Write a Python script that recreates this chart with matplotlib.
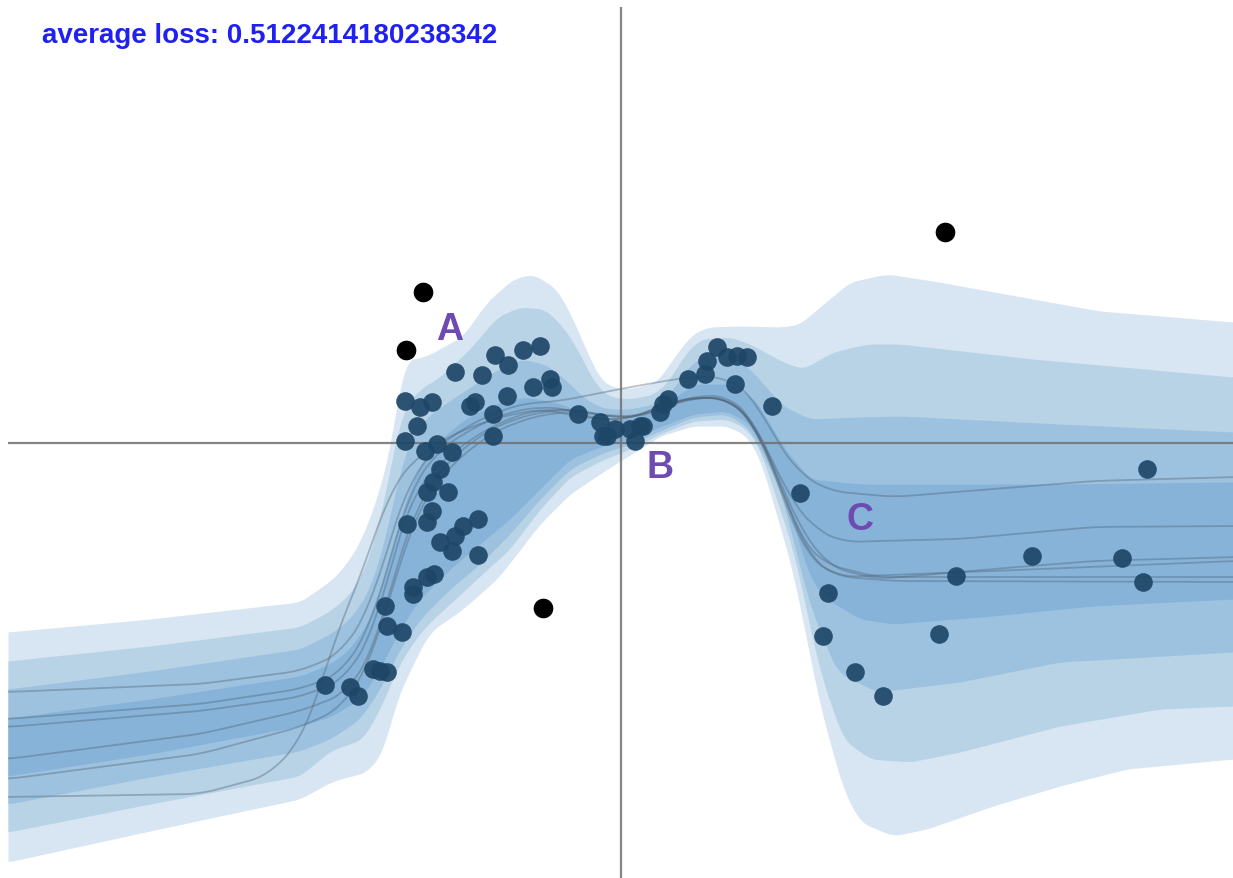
import numpy as np
import matplotlib.pyplot as plt

# plot units: x, y measured from the crossing of the two axis lines

# band edges, outer band (1) to inner band (4)
b1_top_x = [-613, -471, -321, -288, -271, -258, -241, -229, -221, -216, -194, -158, -134, -108, -88, -64, -48, -34, -21, -9, 9, 36, 52, 69, 86, 119, 162, 179, 194, 229, 266, 312, 412, 479, 612]
b1_top_y = [-189, -176, -159, -136, -116, -93, -46, 4, 59, 82, 87, 107, 141, 164, 169, 154, 124, 91, 64, 56, 54, 61, 84, 107, 116, 117, 116, 119, 132, 161, 169, 162, 144, 132, 121]
b1_bot_x = [-613, -471, -321, -288, -254, -238, -224, -204, -191, -158, -124, -108, -81, -51, -21, -1, 19, 39, 72, 106, 126, 139, 154, 172, 199, 222, 239, 272, 306, 372, 439, 506, 612]
b1_bot_y = [-419, -388, -356, -338, -329, -309, -256, -213, -189, -166, -136, -116, -81, -51, -31, -18, -6, 7, 17, 17, 7, -16, -66, -129, -263, -346, -379, -393, -386, -363, -343, -326, -316]

b2_top_x = [-613, -471, -321, -291, -271, -256, -241, -229, -218, -201, -181, -151, -124, -101, -76, -56, -41, -26, -11, 9, 34, 49, 64, 79, 109, 129, 162, 182, 212, 246, 279, 412, 612]
b2_top_y = [-218, -203, -184, -168, -151, -126, -76, -16, 34, 54, 66, 94, 126, 136, 134, 114, 89, 59, 46, 44, 49, 64, 89, 104, 106, 99, 81, 74, 91, 99, 99, 84, 66]
b2_bot_x = [-613, -471, -321, -291, -258, -241, -224, -208, -191, -158, -141, -111, -81, -51, -21, 9, 39, 72, 106, 126, 139, 172, 199, 222, 249, 289, 339, 439, 539, 612]
b2_bot_y = [-389, -361, -333, -308, -296, -266, -226, -199, -179, -149, -133, -106, -66, -34, -18, -6, 9, 22, 24, 14, -6, -106, -229, -296, -316, -319, -309, -283, -266, -263]

b3_top_x = [-613, -471, -321, -291, -271, -251, -236, -223, -211, -191, -161, -131, -101, -76, -56, -36, -16, 9, 34, 49, 64, 79, 109, 129, 162, 189, 239, 279, 439, 612]
b3_top_y = [-246, -228, -206, -191, -176, -146, -96, -36, 4, 29, 49, 69, 84, 79, 64, 44, 34, 34, 39, 49, 72, 86, 89, 74, 37, 24, 26, 27, 19, 11]
b3_bot_x = [-613, -471, -321, -291, -261, -241, -221, -201, -171, -141, -111, -81, -51, -21, 9, 39, 72, 106, 129, 159, 189, 216, 256, 339, 439, 612]
b3_bot_y = [-361, -334, -308, -296, -276, -246, -206, -176, -146, -121, -91, -56, -26, -11, -1, 12, 26, 29, 14, -46, -163, -229, -249, -239, -219, -209]

b4_top_x = [-613, -471, -321, -291, -271, -251, -236, -221, -206, -186, -156, -126, -96, -66, -41, -16, 9, 34, 54, 74, 109, 134, 164, 189, 239, 279, 439, 612]
b4_top_y = [-275, -256, -233, -221, -206, -176, -131, -76, -31, -1, 24, 39, 46, 41, 32, 24, 24, 32, 46, 59, 59, 44, -6, -36, -41, -41, -41, -39]
b4_bot_x = [-613, -471, -321, -291, -261, -241, -221, -201, -171, -141, -111, -81, -51, -21, 9, 39, 72, 106, 129, 159, 189, 206, 239, 272, 372, 472, 612]
b4_bot_y = [-333, -311, -283, -274, -256, -226, -186, -156, -126, -101, -76, -46, -16, -4, 4, 16, 29, 32, 19, -36, -136, -156, -176, -181, -173, -163, -156]

band_colors = ['#d7e6f2', '#b8d2e6', '#9dc2df', '#87b3d8']

# sampled functions (thin grey lines)
samples = [
    ([-613, -421, -321, -281, -251, -231, -211, -181, -141, -101, -61, -1, 49, 79, 109, 134, 154, 179, 209, 272, 372, 472, 612],
     [-249, -241, -228, -211, -166, -96, -36, -1, 24, 39, 42, 54, 63, 67, 64, 44, 4, -31, -48, -54, -46, -38, -34]),
    ([-613, -421, -321, -281, -251, -231, -211, -181, -141, -101, -61, -28, 9, 39, 72, 106, 126, 144, 169, 194, 222, 339, 472, 612],
     [-276, -261, -246, -231, -186, -116, -46, -6, 19, 34, 36, 24, 24, 37, 46, 44, 31, -1, -56, -86, -99, -96, -84, -83]),
    ([-613, -421, -321, -276, -246, -226, -206, -171, -131, -91, -51, -11, 19, 49, 79, 109, 131, 154, 179, 209, 256, 372, 472, 612],
     [-284, -268, -254, -236, -186, -106, -46, -11, 16, 32, 34, 26, 26, 39, 48, 46, 26, -26, -86, -124, -136, -126, -118, -114]),
    ([-613, -421, -321, -276, -246, -226, -201, -171, -131, -91, -51, -11, 19, 49, 79, 109, 134, 159, 184, 214, 272, 612],
     [-316, -291, -268, -251, -206, -126, -56, -16, 14, 29, 34, 27, 27, 39, 46, 44, 19, -46, -111, -133, -138, -139]),
    ([-613, -421, -321, -281, -251, -226, -201, -166, -126, -86, -46, -11, 19, 49, 79, 109, 137, 164, 189, 219, 372, 612],
     [-336, -311, -284, -266, -221, -136, -61, -18, 12, 27, 32, 26, 26, 38, 46, 44, 14, -56, -116, -134, -128, -118]),
    ([-613, -421, -354, -321, -304, -288, -271, -254, -231, -201, -161, -121, -81, -28, 9, 39, 72, 106, 129, 154, 179, 204, 256, 612],
     [-354, -351, -333, -299, -256, -199, -159, -116, -46, -11, 12, 26, 34, 24, 24, 37, 46, 44, 26, -26, -96, -121, -134, -134]),
]

# observed points
pts_x = [-296, -271, -263, -248, -241, -234, -236, -234, -219, -208, -208, -194, -187, -181, -169, -166, -158, -143, -143,
         -214, -194, -189, -188, -194, -173, -181, -196, -184, -169, -216, -204, -216, -201, -189, -151, -146, -128, -128,
         -114, -88, -71, -69, -166, -139, -126, -113, -98, -81,
         -43, -21, -18, -14, -6, 9, 14, 22, 19, 39, 47, 42, 67, 84, 86, 96, 106, 116, 126, 114, 151,
         179, 207, 202, 234, 262, 318, 335, 411, 501, 522, 526]
pts_y = [-242, -244, -253, -226, -228, -229, -163, -183, -189, -144, -151, -134, -131, -99, -108, -93, -83, -76, -112,
         -81, -79, -68, -39, -49, -49, -26, -8, -1, -9, 2, 17, 42, 36, 41, 37, 41, 29, 7,
         47, 56, 64, 56, 71, 68, 88, 78, 93, 97,
         29, 21, 7, 7, 14, 14, 2, 17, 17, 31, 44, 39, 64, 69, 82, 96, 86, 87, 86, 59, 37,
         -50, -150, -193, -229, -253, -191, -133, -113, -115, -139, -26]
outlier_x = [-198, -215, -78, 324]
outlier_y = [151, 93, -165, 211]

labels = ['A', 'B', 'C']
label_x = [-171, 39, 239]
label_y = [114, -24, -76]

loss = 0.5122414180238342


def smooth_curve(xk, yk, grid, width=11):
    y = np.interp(grid, xk, yk)
    pad = width // 2
    y = np.pad(y, pad, mode='edge')
    return np.convolve(y, np.ones(width) / width, mode='valid')


fig = plt.figure(figsize=(12.33, 8.79), dpi=100)
ax = fig.add_axes([8 / 1233, 0, 1225 / 1233, 871 / 879])
ax.set_xlim(-613, 612)
ax.set_ylim(-435, 436)
ax.axis('off')

grid = np.arange(-613, 613)
edges = [(b1_top_x, b1_top_y, b1_bot_x, b1_bot_y),
         (b2_top_x, b2_top_y, b2_bot_x, b2_bot_y),
         (b3_top_x, b3_top_y, b3_bot_x, b3_bot_y),
         (b4_top_x, b4_top_y, b4_bot_x, b4_bot_y)]
for (tx, ty, bx, by), col in zip(edges, band_colors):
    top = smooth_curve(tx, ty, grid, 17)
    bot = smooth_curve(bx, by, grid, 17)
    ax.fill_between(grid, bot, top, color=col, lw=0, zorder=1)

for sx, sy in samples:
    ax.plot(grid, smooth_curve(sx, sy, grid, 35), color='#4f6377', alpha=0.4, lw=1.3, zorder=2)

ax.axhline(0, color='#707070', lw=1.6, alpha=0.85, zorder=2.5)
ax.axvline(0, color='#707070', lw=1.6, alpha=0.85, zorder=2.5)

ax.scatter(pts_x, pts_y, s=180, color='#1e4667', alpha=0.92, lw=0, zorder=3)
ax.scatter(outlier_x, outlier_y, s=200, color='black', lw=0, zorder=3)

for t, lx, ly in zip(labels, label_x, label_y):
    ax.text(lx, ly, t, color='#6e4bb0', fontsize=27, fontweight='bold',
            family=['Liberation Sans', 'DejaVu Sans'], ha='center', va='center', zorder=4)

fig.text(42 / 1233, 1 - 43 / 879, 'average loss: ' + str(loss), color='#2020f0',
         fontsize=20, fontweight='bold', family=['Liberation Sans', 'DejaVu Sans'],
         ha='left', va='baseline')

fig.savefig('out.png', dpi=100)
